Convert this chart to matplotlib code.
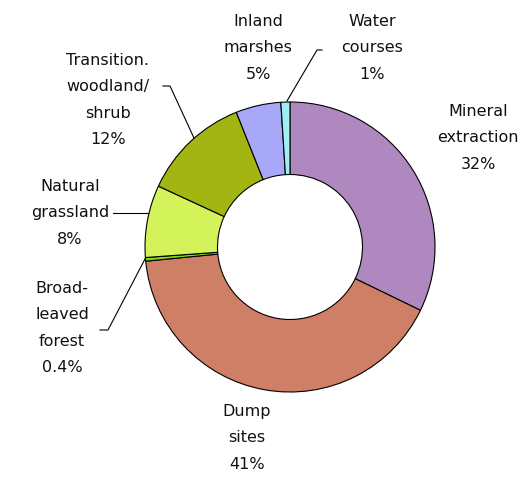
import matplotlib
matplotlib.use("Agg")
import matplotlib.pyplot as plt

# land cover shares, clockwise from the top
categories = ["Mineral\nextraction", "Dump\nsites", "Broad-\nleaved\nforest",
              "Natural\ngrassland", "Transition.\nwoodland/\nshrub",
              "Inland\nmarshes", "Water\ncourses"]
values = [32, 41, 0.4, 8, 12, 5, 1]
pct_labels = ["32%", "41%", "0.4%", "8%", "12%", "5%", "1%"]
colors = ["#AE88BE", "#CF7F66", "#7FD81E", "#D4F25A", "#A2B512", "#A8A8F8", "#9EEEF6"]

W, H = 524, 478
cx, cy, R = 290, 247, 145

fig = plt.figure(figsize=(W / 100, H / 100), dpi=100)
ax = fig.add_axes([0, 0, 1, 1])
ax.pie(values, colors=colors, startangle=90, counterclock=False, radius=1,
       wedgeprops=dict(width=0.5, edgecolor="black", linewidth=0.8))
ax.set_xlim(-cx / R, (W - cx) / R)
ax.set_ylim(-(H - cy) / R, cy / R)
ax.set_aspect("equal")
ax.axis("off")


def px(x, y):
    return (x - cx) / R, (cy - y) / R


# label centres (pixels) and leader lines
label_pos = [(478, 138), (247, 438), (62, 328), (70, 213), (108, 100), (258, 48), (372, 48)]
for name, pct, (x, y) in zip(categories, pct_labels, label_pos):
    ax.text(*px(x, y), name + "\n" + pct, ha="center", va="center",
            fontsize=11.5, linespacing=1.95, color="#111111")

leaders = [
    [(322, 50), (317, 50), (287, 101)],
    [(163, 86), (170, 86), (194, 138)],
    [(113, 213), (148, 213)],
    [(100, 330), (108, 330), (145, 259)],
]
for pts in leaders:
    xs, ys = zip(*[px(x, y) for x, y in pts])
    ax.plot(xs, ys, color="black", linewidth=0.8)

fig.savefig("out.png", dpi=100)
